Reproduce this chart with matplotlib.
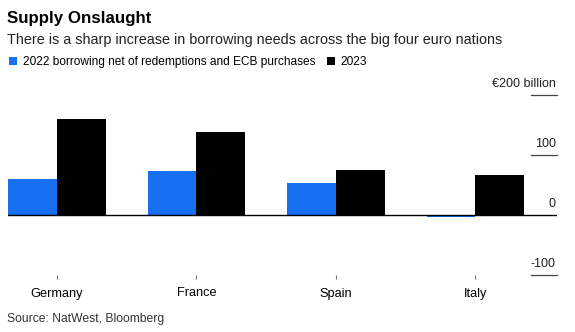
import numpy as np
import matplotlib.pyplot as plt
import matplotlib.transforms as mtransforms

countries = ["Germany", "France", "Spain", "Italy"]
net_2022 = [60, 73, 53, -4]
vals_2023 = [160, 138, 75, 67]
yticks = [200, 100, 0, -100]
ytick_labels = ["€200 billion", "100", "0", "-100"]

BLUE = "#1670f0"

plt.rcParams["font.family"] = ["Liberation Sans", "DejaVu Sans"]

fig = plt.figure(figsize=(5.75, 3.32), dpi=100)
ax = fig.add_axes([8/575, 1 - 275/332, 549/575, 180/332])

x = np.arange(len(countries))
w = 0.35
ax.bar(x - w/2, net_2022, w, color=BLUE, label="2022 borrowing net of redemptions and ECB purchases")
ax.bar(x + w/2, vals_2023, w, color="black", label="2023")

ax.set_xlim(-0.35, 3.585)
ax.set_ylim(-100, 200)

for s in ax.spines.values():
    s.set_visible(False)
ax.set_yticks([])
ax.set_xticks(x)
ax.set_xticklabels(countries, fontsize=9.2)
ax.tick_params(axis="x", length=3, color="#777777", pad=6, width=0.8)

# zero line across, short grid stubs on the right
ax.axhline(0, color="black", lw=1, zorder=3)
trans = mtransforms.blended_transform_factory(ax.transAxes, ax.transData)
for v, lab in zip(yticks, ytick_labels):
    if v != 0:
        ax.plot([0.953, 1.0], [v, v], color="#444444", lw=0.9, transform=trans, clip_on=False)
    ax.annotate(lab, xy=(0.998, v), xycoords=trans, xytext=(0, 5.5), textcoords="offset points",
                ha="right", va="baseline", fontsize=9, color="#222222")

fig.text(7/575, 1 - 23/332, "Supply Onslaught", fontsize=12.2, fontweight="bold", va="baseline")
fig.text(7/575, 1 - 44/332, "There is a sharp increase in borrowing needs across the big four euro nations",
         fontsize=10.4, va="baseline", color="#222222")
fig.legend(loc="center left", bbox_to_anchor=(9/575, 1 - 62/332), ncol=2, frameon=False,
           fontsize=8.6, handlelength=0.65, handleheight=0.65, handletextpad=0.5,
           columnspacing=1.0, borderaxespad=0, borderpad=0)
fig.text(7/575, 1 - 322/332, "Source: NatWest, Bloomberg", fontsize=8.7, va="baseline", color="#333333")

fig.savefig("out.png", dpi=100)
